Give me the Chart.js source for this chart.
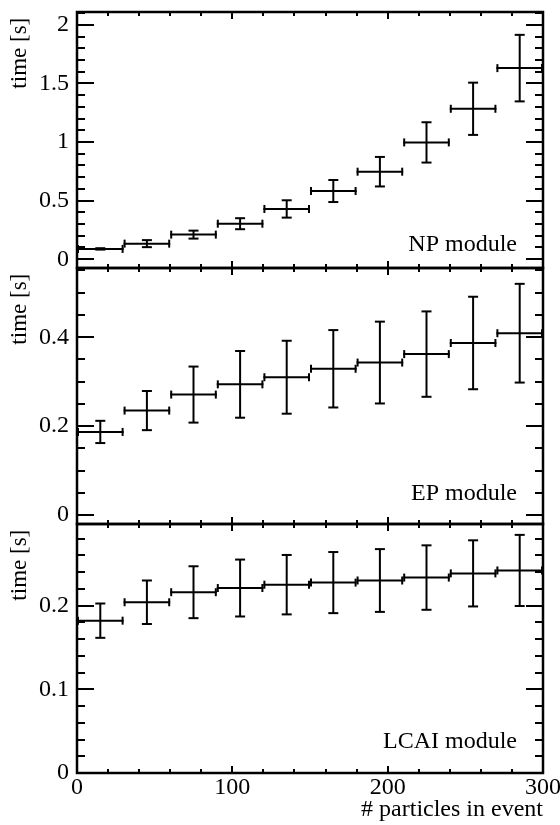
<!DOCTYPE html>
<html>
<head>
<meta charset="utf-8">
<script src="https://cdn.jsdelivr.net/npm/chart.js@4.4.1/dist/chart.umd.min.js"></script>
<style>
  html, body { margin: 0; padding: 0; background: #fff; }
  #wrap { position: relative; width: 560px; height: 825px; }
  #wrap canvas { position: absolute; left: 0; top: 0; }
</style>
</head>
<body>
<div id="wrap">
  <canvas id="npChart" width="560" height="825"></canvas>
  <canvas id="epChart" width="560" height="825"></canvas>
  <canvas id="lcaiChart" width="560" height="825"></canvas>
</div>
<script>
// bins of "# particles in event"
const binEdges = [0, 30, 60, 90, 120, 150, 180, 210, 240, 270, 300];
const binCenters = [15, 45, 75, 105, 135, 165, 195, 225, 255, 285];

// mean time per event [s] and its spread
const npTime = [0.088, 0.133, 0.210, 0.303, 0.429, 0.582, 0.747, 0.997, 1.284, 1.631];
const npErr = [0.006, 0.030, 0.034, 0.047, 0.074, 0.094, 0.126, 0.172, 0.223, 0.284];
const epTime = [0.187, 0.235, 0.271, 0.294, 0.310, 0.329, 0.343, 0.362, 0.387, 0.409];
const epErr = [0.025, 0.044, 0.063, 0.075, 0.082, 0.087, 0.092, 0.096, 0.104, 0.111];
const lcaiTime = [0.182, 0.204, 0.216, 0.221, 0.225, 0.2275, 0.230, 0.2335, 0.2385, 0.242];
const lcaiErr = [0.0205, 0.026, 0.031, 0.034, 0.0355, 0.0365, 0.0375, 0.0385, 0.0395, 0.0425];

// tick labels
const xTicks = [0, 100, 200, 300];
const npTicks = [0, 0.5, 1, 1.5, 2];
const epTicks = [0, 0.2, 0.4];
const lcaiTicks = [0, 0.1, 0.2];

const FONT = '"Liberation Serif", "Times New Roman", serif';
const PLOT_LEFT = 77, PLOT_RIGHT = 543;

function steps(from, to, step) {
  const out = [];
  for (let i = 0; from + i * step <= to + 1e-9; i++) out.push(+(from + i * step).toFixed(4));
  return out;
}

function seg(ctx, x0, y0, x1, y1) {
  ctx.beginPath();
  ctx.moveTo(x0, y0);
  ctx.lineTo(x1, y1);
  ctx.stroke();
}

// ROOT-like frame with inward ticks on all four sides
const frameTicks = {
  id: 'frameTicks',
  afterDraw(chart, args, opts) {
    const { ctx, chartArea: a, scales: { x, y } } = chart;
    ctx.save();
    ctx.strokeStyle = '#000';
    ctx.lineWidth = 2;
    steps(0, y.max, opts.minorStep).forEach(v => {
      if (v < y.min || v > y.max) return;
      const major = opts.major.some(m => Math.abs(m - v) < 1e-6);
      const len = major ? 17 : 8;
      const py = Math.round(y.getPixelForValue(v));
      seg(ctx, a.left, py, a.left + len, py);
      seg(ctx, a.right, py, a.right - len, py);
    });
    steps(20, 280, 20).forEach(v => {
      const len = v % 100 === 0 ? 7 : 4;
      const px = Math.round(x.getPixelForValue(v));
      seg(ctx, px, a.top, px, a.top + len);
      seg(ctx, px, a.bottom, px, a.bottom - len);
    });
    ctx.lineWidth = 2.5;
    ctx.strokeRect(a.left, a.top, a.right - a.left, a.bottom - a.top);
    ctx.fillStyle = '#000';
    ctx.font = '24px ' + FONT;
    ctx.textAlign = 'right';
    ctx.textBaseline = 'alphabetic';
    ctx.fillText(opts.label, a.right - 26, a.bottom - opts.labelLift);
    ctx.restore();
  }
};

// horizontal bin width and vertical spread, with end caps
const errorBars = {
  id: 'errorBars',
  afterDatasetsDraw(chart) {
    const { ctx, scales: { x, y } } = chart;
    const ds = chart.data.datasets[0];
    ctx.save();
    ctx.strokeStyle = '#000';
    ctx.lineWidth = 2;
    ds.data.forEach((p, i) => {
      const px = x.getPixelForValue(p.x);
      const py = y.getPixelForValue(p.y);
      const x0 = x.getPixelForValue(binEdges[i]);
      const x1 = x.getPixelForValue(binEdges[i + 1]);
      const y0 = y.getPixelForValue(p.y - ds.yErr[i]);
      const y1 = y.getPixelForValue(p.y + ds.yErr[i]);
      seg(ctx, x0, py, x1, py);
      seg(ctx, x0 + 1, py - 4, x0 + 1, py + 4);
      seg(ctx, x1 - 1, py - 4, x1 - 1, py + 4);
      seg(ctx, px, y0, px, y1);
      seg(ctx, px - 5, y0, px + 5, y0);
      seg(ctx, px - 5, y1, px + 5, y1);
    });
    ctx.restore();
  }
};

function makePanel(cfg) {
  const showX = cfg.showX;
  return new Chart(document.getElementById(cfg.id), {
    type: 'scatter',
    data: {
      datasets: [{
        data: binCenters.map((c, i) => ({ x: c, y: cfg.time[i] })),
        yErr: cfg.err,
        pointRadius: 0,
        showLine: false
      }]
    },
    options: {
      responsive: false,
      animation: false,
      devicePixelRatio: 1,
      layout: { padding: { top: cfg.top, bottom: showX ? 0 : 825 - cfg.bottom, left: 0, right: 560 - PLOT_RIGHT } },
      plugins: {
        legend: { display: false },
        tooltip: { enabled: false },
        frameTicks: { major: cfg.major, minorStep: cfg.minorStep, label: cfg.label, labelLift: cfg.labelLift }
      },
      scales: {
        x: {
          type: 'linear',
          min: 0,
          max: 300,
          display: showX,
          grid: { display: false, drawTicks: false },
          border: { display: false },
          afterBuildTicks: s => { s.ticks = xTicks.map(v => ({ value: v })); },
          afterFit: s => { s.height = showX ? 825 - cfg.bottom : 0; s.paddingLeft = 0; s.paddingRight = 0; },
          ticks: { color: '#000', padding: 0, autoSkip: false, maxRotation: 0, font: { family: FONT, size: 24 }, callback: v => String(v) },
          title: { display: true, text: '# particles in event', align: 'end', color: '#000', padding: { top: 0, bottom: 1 }, font: { family: FONT, size: 24 } }
        },
        y: {
          type: 'linear',
          min: cfg.yMin,
          max: cfg.yMax,
          grid: { display: false, drawTicks: false },
          border: { display: false },
          afterBuildTicks: s => { s.ticks = cfg.major.map(v => ({ value: v })); },
          afterFit: s => { s.width = PLOT_LEFT; s.paddingTop = 0; s.paddingBottom = 0; },
          ticks: { color: '#000', padding: 8, autoSkip: false, font: { family: FONT, size: 24 }, callback: v => String(v) },
          title: { display: true, text: 'time [s] ', align: 'end', color: '#000', padding: { top: 6, bottom: 0 }, font: { family: FONT, size: 23 } }
        }
      }
    },
    plugins: [errorBars, frameTicks]
  });
}

makePanel({ id: 'npChart', time: npTime, err: npErr, major: npTicks, minorStep: 0.1, yMin: -0.075, yMax: 2.11, top: 12, bottom: 268, label: 'NP module', labelLift: 17, showX: false });
makePanel({ id: 'epChart', time: epTime, err: epErr, major: epTicks, minorStep: 0.05, yMin: -0.02, yMax: 0.5556, top: 268, bottom: 524, label: 'EP module', labelLift: 24, showX: false });
makePanel({ id: 'lcaiChart', time: lcaiTime, err: lcaiErr, major: lcaiTicks, minorStep: 0.02, yMin: 0, yMax: 0.2975, top: 524, bottom: 773, label: 'LCAI module', labelLift: 25, showX: true });
</script>
</body>
</html>
